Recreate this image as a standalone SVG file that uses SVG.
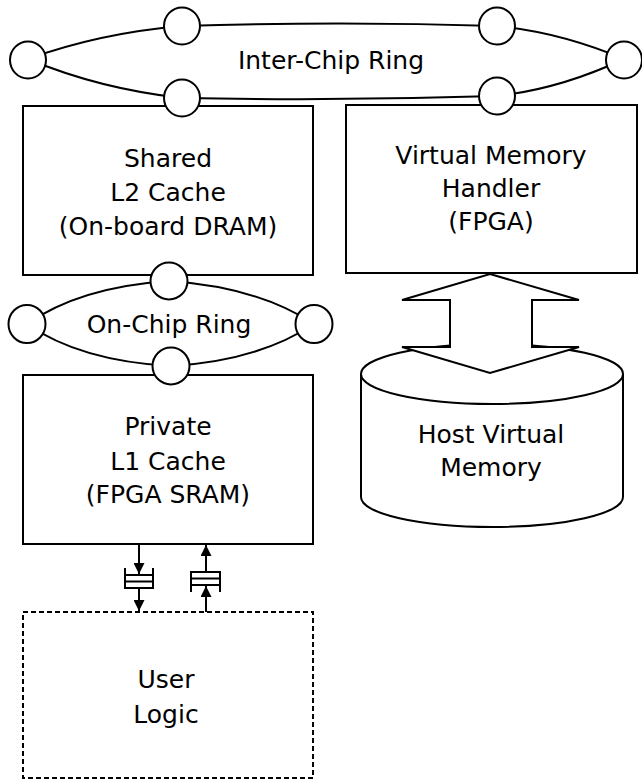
<svg xmlns="http://www.w3.org/2000/svg" width="642" height="781" viewBox="0 0 642 781">
<style>
.s{fill:#fff;stroke:#000;stroke-width:2}
.ln{fill:none;stroke:#000;stroke-width:2}
.t{font-family:"DejaVu Sans","Verdana",sans-serif;font-size:25px;fill:#000;text-anchor:middle}
</style>
<defs>
<marker id="ah" viewBox="0 0 10 10" refX="10" refY="5" markerWidth="5.5" markerHeight="5.5" orient="auto" markerUnits="strokeWidth">
<path d="M0,0 L10,5 L0,10 z" fill="#000"/>
</marker>
</defs>
<rect width="642" height="781" fill="#fff"/>
<g id="shared-l2">
<rect class="s" x="23" y="106" width="290" height="169"/>
<text class="t" x="168" y="167">Shared</text>
<text class="t" x="168" y="201">L2 Cache</text>
<text class="t" x="168" y="235">(On-board DRAM)</text>
</g>
<g id="vm-handler">
<rect class="s" x="346" y="105" width="291" height="168"/>
<text class="t" x="491" y="164">Virtual Memory</text>
<text class="t" x="491" y="197">Handler</text>
<text class="t" x="491" y="230">(FPGA)</text>
</g>
<g id="private-l1">
<rect class="s" x="23" y="375" width="290" height="169"/>
<text class="t" x="168" y="435">Private</text>
<text class="t" x="168" y="470">L1 Cache</text>
<text class="t" x="168" y="503">(FPGA SRAM)</text>
</g>
<g id="inter-chip-ring">
<path class="ln" d="M28,59 Q100,33 182,26 Q339.5,21 497,26 Q560,32 624,59 Q560,89 497,96 Q339.5,101 182,98 Q100,89 28,59 Z"/>
<ellipse class="s" cx="28" cy="60" rx="18" ry="18.5"/>
<ellipse class="s" cx="624" cy="60" rx="18" ry="18.5"/>
<ellipse class="s" cx="182" cy="26" rx="18" ry="18.5"/>
<ellipse class="s" cx="497" cy="26" rx="18" ry="18.5"/>
<ellipse class="s" cx="182" cy="98" rx="18" ry="18.5"/>
<ellipse class="s" cx="497" cy="96" rx="18" ry="18.5"/>
<text class="t" x="331" y="69">Inter-Chip Ring</text>
</g>
<g id="on-chip-ring">
<path class="ln" d="M27,324 Q80,287 169,281 Q258,287 314,324 Q258,361 171,366 Q80,361 27,324 Z"/>
<ellipse class="s" cx="27" cy="324" rx="18.5" ry="19"/>
<ellipse class="s" cx="314" cy="324" rx="18.5" ry="19"/>
<ellipse class="s" cx="169" cy="281" rx="18.5" ry="18.5"/>
<ellipse class="s" cx="171" cy="366" rx="18.5" ry="18.5"/>
<text class="t" x="169" y="333">On-Chip Ring</text>
</g>
<g id="host-vm">
<path class="s" d="M361,374 L361,497 A131,30 0 0 0 623,497 L623,374"/>
<ellipse class="s" cx="492" cy="374" rx="131" ry="30"/>
<text class="t" x="491" y="443">Host Virtual</text>
<text class="t" x="491" y="476">Memory</text>
</g>
<g id="user-logic">
<rect x="23" y="612" width="290" height="166" fill="#fff" stroke="#000" stroke-width="2" stroke-dasharray="5,3"/>
<text class="t" x="166" y="688">User</text>
<text class="t" x="166" y="723">Logic</text>
</g>
<g id="fifo-down">
<path class="ln" d="M125,568 L125,588 L153,588 L153,568 M125,575 L153,575 M125,581.5 L153,581.5"/>
</g>
<g id="fifo-up">
<path class="ln" d="M191,592 L191,572 L220,572 L220,592 M191,578.5 L220,578.5 M191,585 L220,585"/>
</g>
<g id="connectors">
<path class="s" d="M490,274 L579,300 L532,300 L532,347 L579,347 L490,373 L402,347 L450,347 L450,300 L402,300 Z"/>
<line class="ln" x1="139" y1="544" x2="139" y2="574" marker-end="url(#ah)"/>
<line class="ln" x1="139" y1="588" x2="139" y2="611" marker-end="url(#ah)"/>
<line class="ln" x1="206" y1="612" x2="206" y2="586" marker-end="url(#ah)"/>
<line class="ln" x1="206" y1="572" x2="206" y2="545" marker-end="url(#ah)"/>
</g>
</svg>
